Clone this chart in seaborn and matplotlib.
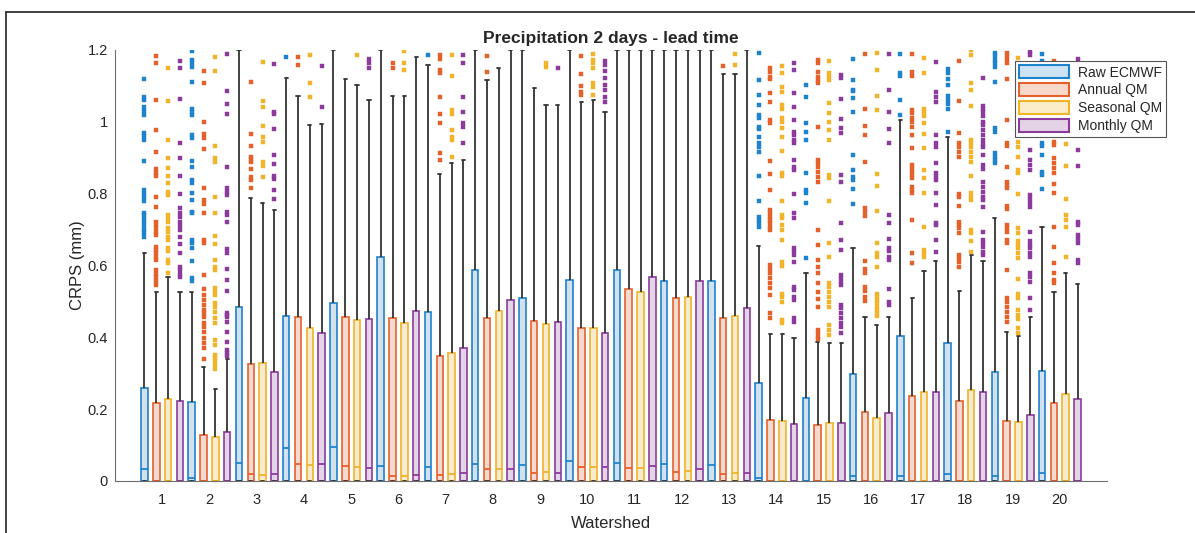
import pandas as pd
import matplotlib
matplotlib.use('Agg')
import matplotlib.pyplot as plt
import seaborn as sns
from matplotlib import patches as mpatches

#DATA: per box median, upper quartile, upper whisker, outliers
#lower quartile and lower whisker are 0 for every box
watersheds = [str(i) for i in range(1, 21)]
methods = ['Raw ECMWF', 'Annual QM', 'Seasonal QM', 'Monthly QM']

raw_med = [0.033, 0.009, 0.051, 0.091, 0.096, 0.043, 0.038, 0.047, 0.045, 0.056,
           0.049, 0.047, 0.045, 0.009, 0.0, 0.014, 0.014, 0.019, 0.015, 0.021]
raw_q3 = [0.26, 0.22, 0.485, 0.46, 0.496, 0.625, 0.47, 0.587, 0.51, 0.56,
          0.587, 0.558, 0.558, 0.272, 0.232, 0.298, 0.404, 0.385, 0.304, 0.307]
raw_whi = [0.636, 0.527, 1.2, 1.121, 1.2, 1.2, 1.158, 1.2, 1.2, 1.2,
           1.2, 1.2, 1.2, 0.655, 0.578, 0.648, 1.005, 0.959, 0.731, 0.706]
raw_out = [
    [1.12, 1.07, 1.06, 1.04, 1.03, 1.02, 0.97, 0.96, 0.95, 0.89, 0.81, 0.80, 0.79, 0.78, 0.745, 0.74, 0.73, 0.72, 0.71, 0.70, 0.69, 0.68],
    [1.197, 1.172, 1.163, 1.153, 1.11, 1.037, 1.028, 1.019, 0.963, 0.954, 0.892, 0.873, 0.838, 0.829, 0.803, 0.782, 0.75, 0.745, 0.671, 0.662, 0.648, 0.613, 0.564, 0.558],
    [], [1.181], [], [], [1.186], [], [], [], [], [], [],
    [1.192, 1.116, 1.075, 1.047, 1.019, 1.01, 0.986, 0.979, 0.959, 0.94, 0.931, 0.917, 0.849, 0.78, 0.736, 0.727, 0.717, 0.708],
    [1.102, 1.068, 0.996, 0.973, 0.949, 0.857, 0.81, 0.801, 0.773, 0.62],
    [1.174, 1.116, 1.09, 1.086, 1.065, 1.028, 0.908, 0.866, 0.847, 0.838, 0.812, 0.77],
    [1.189, 1.137, 1.128, 1.061, 1.019],
    [1.146, 1.135, 1.118, 1.102, 1.072, 1.061, 1.05, 1.037, 0.973],
    [1.192, 1.183, 1.173, 1.163, 1.154, 1.11, 0.982, 0.973, 0.912, 0.903, 0.894, 0.884],
    [1.19, 1.17, 1.15, 1.1, 1.0, 0.942, 0.933, 0.908, 0.861, 0.852, 0.812],
]

ann_med = [0.0, 0.0, 0.019, 0.047, 0.043, 0.015, 0.017, 0.033, 0.021, 0.04,
           0.037, 0.024, 0.019, 0.0, 0.0, 0.0, 0.0, 0.0, 0.0, 0.0]
ann_q3 = [0.216, 0.128, 0.325, 0.457, 0.457, 0.455, 0.349, 0.453, 0.445, 0.425,
          0.535, 0.51, 0.453, 0.17, 0.156, 0.193, 0.237, 0.224, 0.167, 0.216]
ann_whi = [0.527, 0.316, 0.789, 1.072, 1.118, 1.072, 0.855, 1.116, 1.093, 1.056,
           1.2, 1.2, 1.132, 0.409, 0.388, 0.457, 0.509, 0.53, 0.416, 0.525]
ann_out = [
    [1.184, 1.164, 1.06, 0.977, 0.916, 0.868, 0.857, 0.848, 0.79, 0.764, 0.72, 0.713, 0.703, 0.694, 0.685, 0.652, 0.643, 0.634, 0.625, 0.615, 0.587, 0.577, 0.567, 0.556, 0.546],
    [1.142, 1.109, 1.0, 0.965, 0.956, 0.923, 0.817, 0.782, 0.77, 0.745, 0.671, 0.662, 0.573, 0.534, 0.518, 0.504, 0.49, 0.476, 0.467, 0.457, 0.44, 0.428, 0.416, 0.397, 0.383, 0.369, 0.341],
    [1.112, 0.966, 0.933, 0.903, 0.896, 0.889, 0.87, 0.847, 0.838, 0.815],
    [1.18, 1.158], [], [1.165, 1.151],
    [1.186, 1.174, 1.144, 1.137, 1.07, 1.022, 0.998, 0.912, 0.895],
    [1.183, 1.14], [],
    [1.183, 1.134, 1.099, 1.084, 1.075],
    [], [], [1.155],
    [1.149, 1.14, 1.126, 1.118, 1.079, 1.056, 1.005, 0.996, 0.892, 0.855, 0.81, 0.754, 0.745, 0.736, 0.727, 0.717, 0.708, 0.699, 0.601, 0.589, 0.578, 0.564, 0.55, 0.536, 0.518, 0.467, 0.453],
    [1.172, 1.163, 1.14, 1.126, 1.116, 1.107, 0.985, 0.894, 0.885, 0.875, 0.861, 0.847, 0.833, 0.699, 0.657, 0.615, 0.597, 0.578, 0.55, 0.527, 0.508, 0.485, 0.42, 0.411, 0.402, 0.395],
    [1.19, 1.035, 0.988, 0.963, 0.889, 0.759, 0.75, 0.738, 0.613, 0.589, 0.578, 0.539, 0.53, 0.511, 0.502],
    [1.189, 1.14, 1.128, 1.032, 1.024, 1.012, 1.0, 0.986, 0.963, 0.926, 0.88, 0.871, 0.861, 0.852, 0.843, 0.819, 0.81, 0.801, 0.728, 0.636, 0.606],
    [1.17, 1.058, 0.968, 0.94, 0.931, 0.917, 0.903, 0.799, 0.79, 0.766, 0.722, 0.713, 0.703, 0.69, 0.629, 0.62, 0.611, 0.597],
    [1.192, 1.183, 1.173, 1.165, 1.118, 1.005, 0.942, 0.933, 0.875, 0.833, 0.824, 0.815, 0.766, 0.756, 0.713, 0.703, 0.694, 0.671, 0.662, 0.587, 0.509, 0.499, 0.485, 0.471, 0.457, 0.444],
    [1.17, 1.11, 0.945, 0.936, 0.898, 0.884, 0.871, 0.857, 0.827, 0.803, 0.708, 0.652, 0.606, 0.578, 0.56, 0.55],
]

sea_med = [0.0, 0.0, 0.017, 0.045, 0.04, 0.015, 0.019, 0.033, 0.024, 0.04,
           0.037, 0.028, 0.023, 0.0, 0.0, 0.0, 0.0, 0.0, 0.0, 0.0]
sea_q3 = [0.228, 0.123, 0.328, 0.425, 0.448, 0.441, 0.356, 0.474, 0.436, 0.425,
          0.527, 0.513, 0.46, 0.168, 0.161, 0.176, 0.247, 0.253, 0.163, 0.242]
sea_whi = [0.567, 0.256, 0.773, 0.991, 1.102, 1.072, 0.886, 1.149, 1.047, 1.061,
           1.2, 1.2, 1.132, 0.409, 0.385, 0.434, 0.586, 0.629, 0.404, 0.58]
sea_out = [
    [1.149, 1.058, 0.949, 0.9, 0.872, 0.85, 0.83, 0.805, 0.796, 0.74, 0.731, 0.722, 0.703, 0.694, 0.68, 0.67, 0.648, 0.639, 0.615, 0.606, 0.578],
    [1.18, 1.142, 0.933, 0.898, 0.889, 0.79, 0.745, 0.682, 0.66, 0.615, 0.597, 0.587, 0.536, 0.527, 0.518, 0.495, 0.484, 0.47, 0.455, 0.44, 0.393, 0.379, 0.351, 0.342, 0.333, 0.323, 0.312],
    [1.167, 1.058, 1.042, 0.988, 0.959, 0.945, 0.889, 0.877, 0.845],
    [1.186, 1.107, 1.07], [1.186], [1.198, 1.165, 1.143],
    [1.186, 1.128, 1.032, 1.022, 0.977, 0.957, 0.949, 0.903],
    [], [1.163, 1.153],
    [1.19, 1.172, 1.163, 1.149, 1.107, 1.098, 1.075],
    [], [], [1.189, 1.158],
    [1.155, 1.135, 1.098, 1.084, 1.047, 1.037, 1.01, 1.0, 0.982, 0.959, 0.92, 0.857, 0.848, 0.78, 0.741, 0.731, 0.713, 0.699, 0.671, 0.611, 0.599, 0.522, 0.513, 0.499, 0.448, 0.439],
    [1.17, 1.135, 1.126, 1.116, 1.053, 1.024, 1.0, 0.977, 0.949, 0.852, 0.843, 0.78, 0.662, 0.625, 0.55, 0.541, 0.527, 0.513, 0.499, 0.485, 0.434, 0.42, 0.406],
    [1.192, 1.143, 1.072, 1.033, 0.854, 0.82, 0.752, 0.662, 0.634, 0.625, 0.597, 0.522, 0.513, 0.504, 0.495, 0.485, 0.476, 0.467, 0.458],
    [1.179, 1.135, 1.035, 1.026, 1.016, 0.998, 0.965, 0.926, 0.866, 0.843, 0.803, 0.708, 0.643, 0.634, 0.625],
    [1.2, 1.186, 1.107, 1.09, 1.044, 0.949, 0.94, 0.931, 0.917, 0.903, 0.889, 0.849, 0.801, 0.791, 0.782, 0.699, 0.69, 0.667, 0.638],
    [1.179, 0.945, 0.931, 0.903, 0.866, 0.857, 0.799, 0.703, 0.69, 0.667, 0.657, 0.648, 0.634, 0.62, 0.561, 0.522, 0.509, 0.476, 0.462, 0.45, 0.425, 0.411],
    [1.15, 0.938, 0.877, 0.784, 0.741, 0.727, 0.706, 0.625],
]

mon_med = [0.0, 0.0, 0.019, 0.046, 0.037, 0.017, 0.023, 0.033, 0.021, 0.04,
           0.042, 0.033, 0.021, 0.0, 0.0, 0.0, 0.0, 0.0, 0.0, 0.0]
mon_q3 = [0.222, 0.137, 0.304, 0.413, 0.45, 0.474, 0.369, 0.504, 0.442, 0.413,
          0.567, 0.558, 0.481, 0.159, 0.162, 0.19, 0.247, 0.249, 0.184, 0.228]
mon_whi = [0.527, 0.34, 0.754, 0.994, 1.061, 1.181, 0.895, 1.2, 1.047, 1.028,
           1.2, 1.2, 1.2, 0.397, 0.385, 0.457, 0.613, 0.613, 0.457, 0.548]
mon_out = [
    [1.169, 1.149, 1.063, 0.94, 0.898, 0.85, 0.8, 0.76, 0.745, 0.736, 0.722, 0.71, 0.7, 0.68, 0.66, 0.634, 0.597, 0.587, 0.577, 0.567],
    [1.19, 1.086, 1.05, 1.022, 0.875, 0.815, 0.805, 0.796, 0.75, 0.74, 0.722, 0.645, 0.634, 0.589, 0.56, 0.53, 0.469, 0.462, 0.456, 0.444, 0.416, 0.388, 0.365, 0.355, 0.348],
    [1.161, 1.028, 1.022, 0.98, 0.908, 0.882, 0.849, 0.84, 0.81, 0.785],
    [1.155, 1.04], [1.174, 1.165, 1.149], [],
    [1.186, 1.163, 1.068, 1.026, 0.996, 0.986, 0.942],
    [], [1.149],
    [1.169, 1.157, 1.141, 1.122, 1.103, 1.089, 1.07, 1.056],
    [], [], [],
    [1.163, 1.144, 1.079, 1.042, 1.005, 0.973, 0.963, 0.949, 0.94, 0.894, 0.875, 0.866, 0.799, 0.745, 0.731, 0.648, 0.639, 0.629, 0.611, 0.541, 0.531, 0.513, 0.504, 0.453, 0.444],
    [1.13, 1.121, 1.063, 1.007, 0.982, 0.968, 0.852, 0.833, 0.717, 0.671, 0.643, 0.573, 0.564, 0.555, 0.545, 0.49, 0.481, 0.467, 0.453, 0.439, 0.43, 0.411],
    [1.19, 1.09, 1.028, 0.979, 0.942, 0.74, 0.719, 0.673, 0.648, 0.639, 0.625, 0.615, 0.534, 0.499, 0.49],
    [1.167, 1.082, 1.07, 1.056, 0.963, 0.94, 0.931, 0.884, 0.857, 0.848, 0.838, 0.803, 0.768, 0.719, 0.713, 0.671, 0.638],
    [1.121, 1.044, 1.035, 1.026, 1.016, 1.0, 0.991, 0.977, 0.963, 0.949, 0.938, 0.929, 0.908, 0.88, 0.87, 0.833, 0.819, 0.805, 0.791, 0.782, 0.764, 0.694, 0.671, 0.662, 0.652, 0.638, 0.629],
    [1.195, 1.186, 0.922, 0.894, 0.88, 0.866, 0.796, 0.785, 0.773, 0.764, 0.694, 0.667, 0.657, 0.648, 0.634, 0.625, 0.578, 0.567, 0.555, 0.509, 0.476],
    [1.174, 0.922, 0.877, 0.722, 0.713, 0.685, 0.675, 0.662, 0.615, 0.608],
]

#Colors (MATLAB-like)
edge_colors = {'Raw ECMWF': '#1f82cc', 'Annual QM': '#e5612b', 'Seasonal QM': '#f0b32a', 'Monthly QM': '#8c3b9c'}
face_colors = {'Raw ECMWF': '#cde2f2', 'Annual QM': '#f8d8cb', 'Seasonal QM': '#fcedc9', 'Monthly QM': '#e4d3e7'}

stats = {'Raw ECMWF': (raw_med, raw_q3, raw_whi, raw_out),
         'Annual QM': (ann_med, ann_q3, ann_whi, ann_out),
         'Seasonal QM': (sea_med, sea_q3, sea_whi, sea_out),
         'Monthly QM': (mon_med, mon_q3, mon_whi, mon_out)}


#Expand box statistics into a sample whose quartiles/whiskers reproduce them
def box_sample(med, q3, whi, out):
    t = len(out) + 2
    return [0.0]*(t+1) + [med]*t + [q3]*t + [whi] + list(out)


rows = []
for m in methods:
    med, q3, whi, out = stats[m]
    for i, ws in enumerate(watersheds):
        for v in box_sample(med[i], q3[i], whi[i], out[i]):
            rows.append((ws, m, v))
df = pd.DataFrame(rows, columns=['Watershed', 'Method', 'CRPS'])

#PLOT
sns.set_style('white')
plt.rcParams['font.family'] = ['Liberation Sans', 'DejaVu Sans']
fig = plt.figure(figsize=(11.95, 5.33), dpi=100)
ax = fig.add_axes([0.0962, 0.0976, 0.8302, 0.8086])

for m in methods:
    ec = edge_colors[m]
    sns.boxplot(data=df[df.Method == m], x='Watershed', y='CRPS', hue='Method',
                order=watersheds, hue_order=methods, palette=face_colors,
                linecolor=ec, linewidth=1.2, width=1.0, gap=0.45, dodge=True,
                fliersize=2.4, legend=False, ax=ax,
                flierprops=dict(marker='s', markerfacecolor=ec, markeredgecolor=ec, markeredgewidth=0.3),
                whiskerprops=dict(color='#333333', linewidth=1.3),
                capprops=dict(color='#333333', linewidth=1.3),
                medianprops=dict(color=ec, linewidth=1.3))

ax.set_xlim(-1, 20)
ax.set_ylim(0, 1.2)
ax.set_yticks([0, 0.2, 0.4, 0.6, 0.8, 1.0, 1.2])
ax.set_yticklabels(['0', '0.2', '0.4', '0.6', '0.8', '1', '1.2'])
ax.tick_params(direction='in', length=7, width=0.8, color='#555555', labelcolor='#262626', labelsize=10.5)
ax.tick_params(axis='x', pad=9)
ax.tick_params(axis='y', pad=5)
sns.despine(ax=ax)
for s in ['left', 'bottom']:
    ax.spines[s].set_color('#6e6e6e')
    ax.spines[s].set_linewidth(0.8)

ax.set_xlabel('Watershed', fontsize=12, color='#262626', labelpad=6)
ax.set_ylabel('CRPS (mm)', fontsize=12, color='#262626', labelpad=2)
ax.set_title('Precipitation 2 days - lead time', fontsize=12.5, fontweight='bold', pad=5)

handles = [mpatches.Patch(facecolor=face_colors[m], edgecolor=edge_colors[m], linewidth=1.5, label=m) for m in methods]
leg = ax.legend(handles=handles, loc='upper right', bbox_to_anchor=(1.0595, 0.9745), borderaxespad=0,
                fancybox=False, framealpha=1, edgecolor='#555555', fontsize=10,
                handlelength=3.6, handleheight=1.1, borderpad=0.3, labelspacing=0.25, handletextpad=0.6)
leg.get_frame().set_linewidth(0.8)

#screenshot frame
fig.add_artist(plt.Line2D([6/1195, 6/1195], [0, 1-12/533], transform=fig.transFigure, color='#222222', lw=1.2))
fig.add_artist(plt.Line2D([6/1195, 1], [1-12/533, 1-12/533], transform=fig.transFigure, color='#222222', lw=1.2))

plt.savefig('out.png', dpi=100)
